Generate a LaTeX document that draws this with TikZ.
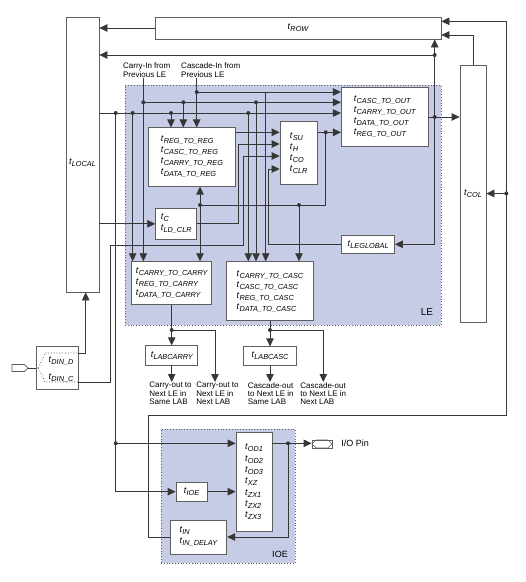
\documentclass[tikz,border=0pt]{standalone}
\usepackage{fontspec}
\setmainfont{Liberation Sans}
\usetikzlibrary{arrows.meta}
\definecolor{lefill}{RGB}{199,204,230}
\definecolor{wirecol}{RGB}{55,55,55}
\definecolor{boxedge}{RGB}{95,95,95}
\newcommand\tsub[1]{\textit{t}\raisebox{-2pt}{\fontsize{7.3}{9}\selectfont\itshape #1}}
\begin{document}
\begin{tikzpicture}[x=1pt,y=-1pt,line width=0.8pt,
  wire/.style={draw=wirecol,line width=0.8pt},
  arr/.style={wire,-{Triangle[length=8pt,width=7.5pt]}},
  box/.style={draw=boxedge,fill=white,line width=0.8pt,inner sep=0pt,align=left,font=\fontsize{9}{11}\selectfont,text=black},
  region/.style={draw=boxedge,fill=lefill,dotted,line width=0.8pt,inner sep=0pt},
  note/.style={font=\fontsize{8}{8.3}\selectfont,align=left,inner sep=0pt,text=black},
  sublab/.style={inner sep=0pt,font=\fontsize{9}{11}\selectfont,text=black}]
\fill[white] (0,0) rectangle (526,582);
\useasboundingbox (0,0) rectangle (526,582);

% regions
\node[region,minimum width=316pt,minimum height=240pt] (le) at (283,205) {};
\node[region,minimum width=134pt,minimum height=134pt] (ioe) at (228,496) {};
\node[font=\fontsize{10}{12}\selectfont,inner sep=0pt] (lelab) at (427,312) {LE};
\node[font=\fontsize{9}{11}\selectfont,inner sep=0pt] (ioelab) at (280,554) {IOE};

% boxes
\node[box,minimum width=33pt,minimum height=275pt] (tlocal) at (82.5,154.5) {};
\node[sublab] (tlocallab) at (82.5,163) {\tsub{LOCAL}};
\node[box,minimum width=286pt,minimum height=22pt] (trow) at (298,28) {\tsub{ROW}};
\node[box,minimum width=26pt,minimum height=257pt] (tcol) at (473,193.5) {\tsub{COL}};
\node[box,minimum width=87.4pt,minimum height=58.3pt] (treg) at (192,157)
  {\tsub{REG\_TO\_REG}\\\tsub{CASC\_TO\_REG}\\\tsub{CARRY\_TO\_REG}\\\tsub{DATA\_TO\_REG}};
\node[box,minimum width=37.3pt,minimum height=62.3pt] (tsu) at (298.7,152.9)
  {\tsub{SU}\\\tsub{H}\\\tsub{CO}\\\tsub{CLR}};
\node[box,minimum width=86.7pt,minimum height=58.4pt] (tout) at (384.7,117)
  {\tsub{CASC\_TO\_OUT}\\\tsub{CARRY\_TO\_OUT}\\\tsub{DATA\_TO\_OUT}\\\tsub{REG\_TO\_OUT}};
\node[box,minimum width=41pt,minimum height=31pt] (tc) at (176.2,223.8) {\tsub{C}\\\tsub{LD\_CLR}};
\node[box,minimum width=52.8pt,minimum height=18.4pt] (tleg) at (368.1,244.3) {\tsub{LEGLOBAL}};
\node[box,minimum width=80pt,minimum height=42.6pt] (tcc) at (171.7,283)
  {\tsub{CARRY\_TO\_CARRY}\\\tsub{REG\_TO\_CARRY}\\\tsub{DATA\_TO\_CARRY}};
\node[box,minimum width=86.6pt,minimum height=59pt] (tck) at (270,291.2)
  {\tsub{CARRY\_TO\_CASC}\\\tsub{CASC\_TO\_CASC}\\\tsub{REG\_TO\_CASC}\\\tsub{DATA\_TO\_CASC}};
\node[box,minimum width=52.3pt,minimum height=19.3pt] (tlabcarry) at (171.7,355.4) {\tsub{LABCARRY}};
\node[box,minimum width=52.4pt,minimum height=18.3pt] (tlabcasc) at (270,355.9) {\tsub{LABCASC}};
\node[box,minimum width=42pt,minimum height=42.6pt] (tdin) at (57,368) {};
\node[sublab] (dind) at (61,361.5) {\tsub{DIN\_D}};
\node[sublab] (dinc) at (61,378) {\tsub{DIN\_C}};
\node[box,minimum width=36pt,minimum height=99.4pt,font=\fontsize{9}{11.3}\selectfont] (tod) at (254,482)
  {\tsub{OD1}\\\tsub{OD2}\\\tsub{OD3}\\\tsub{XZ}\\\tsub{ZX1}\\\tsub{ZX2}\\\tsub{ZX3}};
\node[box,minimum width=31pt,minimum height=18.7pt] (tioe) at (191.5,491.7) {\tsub{IOE}};
\node[box,minimum width=56.7pt,minimum height=34pt] (tin) at (198.4,537) {\tsub{IN}\\\tsub{IN\_DELAY}};

% texts
\node[note,anchor=south] (carryin) at (146.7,77.5) {Carry-In from\\Previous LE};
\node[note,anchor=south] (cascin) at (210.8,77.5) {Cascade-In from\\Previous LE};
\node[note,anchor=north west] (co1) at (149,382) {Carry-out to\\Next LE in\\Same LAB};
\node[note,anchor=north west] (co2) at (196,382) {Carry-out to\\Next LE in\\Next LAB};
\node[note,anchor=north west] (co3) at (247.5,382) {Cascade-out\\to Next LE in\\Same LAB};
\node[note,anchor=north west] (co4) at (300,382) {Cascade-out\\to Next LE in\\Next LAB};

% pins
\node[draw=boxedge,fill=white,minimum width=20pt,minimum height=8pt,inner sep=0pt] (iopin) at (322,444) {};
\draw[boxedge,line width=0.6pt] (312,444) -- (316,440) -- (328,440) -- (332,444) -- (328,448) -- (316,448) -- cycle;
\node[font=\fontsize{9}{11}\selectfont,inner sep=0pt,anchor=west] (iotext) at (341,443.5) {I/O Pin};
\draw[boxedge,fill=white,line width=0.7pt] (12,364.5) -- (24.5,364.5) -- (28,368) -- (24.5,371.5) -- (12,371.5) -- cycle;
\coordinate (inpin) at (28,368);

% junction coordinates
\coordinate (Da) at (115.7,113);
\coordinate (Db) at (132.7,113);
\coordinate (Dc) at (171,113);
\coordinate (Dd) at (248.3,113);
\coordinate (Ea) at (115.7,443.3);
\coordinate (Ca) at (143.3,102.3);
\coordinate (Cb) at (183.3,102.3);
\coordinate (Cc) at (256,102.3);
\coordinate (Ka) at (196.7,92);
\coordinate (Kb) at (265.7,92);
\coordinate (R1) at (0,132.3);
\coordinate (T1) at (238.3,144);
\coordinate (U1) at (110,245);
\coordinate (U2) at (243.3,156);
\coordinate (yC) at (0,382);
\coordinate (yD) at (0,353);
\coordinate (Z1) at (85.7,353);
\coordinate (V1) at (268.3,169);
\coordinate (S1) at (325.7,132.3);
\coordinate (S2) at (299,205);
\coordinate (S3) at (200,205);
\coordinate (J1) at (434.7,55);
\coordinate (J2) at (434.7,117);
\coordinate (J3) at (506.3,193.5);
\coordinate (W1) at (0,35);
\coordinate (L1) at (148.3,415.5);
\coordinate (L2) at (506.3,415.5);
\coordinate (L3) at (506.3,21.3);
\coordinate (P1) at (171.7,330);
\coordinate (P1b) at (215,330);
\coordinate (P2) at (270,330);
\coordinate (P2b) at (323.3,330);
\coordinate (O1) at (288,443.3);

% top connections
\draw[arr] (trow.west) -- (tlocal.east |- trow.west);
\draw[arr] (J1) -- (tlocal.east |- J1);
\draw[arr] (J1) -- (J1 |- trow.south);
\draw[arr] (J1) |- (tleg.east);
\draw[wire] (tout.east |- J2) -- (J2);
\draw[arr] (J2) -- (tcol.west |- J2);
\draw[arr] (tcol.north) |- (trow.east |- W1);
\draw[arr] (tin.west) -| (L1) -- (L2) -- (L3) -- (trow.east |- L3);
\draw[arr] (J3) -- (tcol.east |- J3);

% data line
\draw[arr] (tlocal.east |- Da) -- (tout.west |- Da);
\draw[arr] (Db) -- (Db |- tcc.north);
\draw[arr] (Dc) -- (Dc |- treg.north);
\draw[arr] (Dd) -- (Dd |- tck.north);
\draw[wire] (Da) -- (Ea);
\draw[arr] (Ea) |- (tioe.west);
\draw[arr] (Ea) -- (Ea -| tod.west);

% carry line
\draw[arr] (carryin.south -| Ca) -- (Ca |- tcc.north);
\draw[arr] (Ca) -- (tout.west |- Ca);
\draw[arr] (Cb) -- (Cb |- treg.north);
\draw[arr] (Cc) -- (Cc |- tck.north);

% cascade line
\draw[arr] (cascin.south -| Ka) -- (Ka |- treg.north);
\draw[arr] (Ka) -- (tout.west |- Ka);
\draw[arr] (Kb) -- (Kb |- tck.north);

% register inputs
\draw[arr] (treg.east |- R1) -- (tsu.west |- R1);
\draw[arr] (tc.east) -| (T1) -- (tsu.west |- T1);
\draw[arr] (tdin.east |- yC) -| (U1) -| (U2) -- (tsu.west |- U2);
\draw[arr] (tleg.west) -| (V1) -- (tsu.west |- V1);
\draw[arr] (tlocal.east |- tc.west) -- (tc.west);

% register outputs
\draw[arr] (tsu.east |- S1) -- (tout.west |- S1);
\draw[wire] (S1) |- (S3);
\draw[arr] (S2) -- (S2 |- tck.north);
\draw[arr] (S3) -- (S3 |- treg.south);
\draw[arr] (S3) -- (S3 |- tcc.north);

% carry/cascade outputs
\draw[wire] (tcc.south) -- (P1);
\draw[arr] (P1) -- (tlabcarry.north);
\draw[arr] (P1) -- (P1b) -- (P1b |- co2.north);
\draw[arr] (tlabcarry.south) -- (tlabcarry.south |- co1.north);
\draw[wire] (tck.south) -- (P2);
\draw[arr] (P2) -- (tlabcasc.north);
\draw[arr] (P2) -- (P2b) -- (P2b |- co4.north);
\draw[arr] (tlabcasc.south) -- (tlabcasc.south |- co3.north);

% dedicated inputs
\draw[wire] (inpin) -- (tdin.west);
\draw[wire,dotted,line width=0.6pt] (38.5,368) -- (45,353) -- (tdin.east |- yD);
\draw[wire,dotted,line width=0.6pt] (38.5,368) -- (45,382) -- (tdin.east |- yC);
\draw[arr] (tdin.east |- Z1) -- (Z1) -- (Z1 |- tlocal.south);

% IOE
\draw[arr] (tioe.east) -- (tod.west |- tioe.east);
\draw[wire] (tod.east |- O1) -- (O1);
\draw[arr] (O1) -- (iopin.west |- O1);
\draw[arr] (O1) |- (tin.east);

% dots
\foreach \p in {Da,Db,Dc,Dd,Ea,Ca,Cb,Cc,Ka,S1,S2,S3,J1,J2,J3,P1,P2,O1}
  \fill[wirecol] (\p) circle (2pt);
\end{tikzpicture}
\end{document}
